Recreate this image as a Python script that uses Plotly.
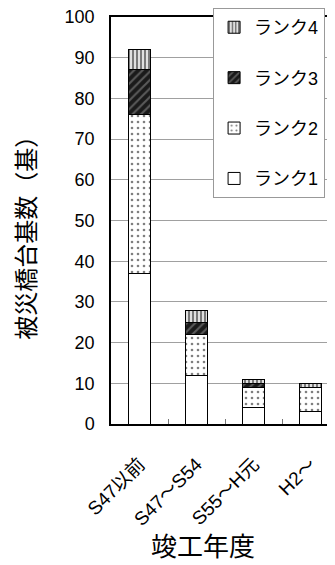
import plotly.graph_objects as go

# --- data ---
categories = ["S47以前", "S47～S54", "S55～H元", "H2～"]
rank1 = [37, 12, 4, 3]
rank2 = [39, 10, 5, 6]
rank3 = [11, 3, 1, 0]
rank4 = [5, 3, 1, 1]
y_ticks = [0, 10, 20, 30, 40, 50, 60, 70, 80, 90, 100]

JP = "Liberation Sans, Noto Sans CJK JP"

series = [
    ("ランク1", rank1, dict(shape="", bgcolor="white")),
    ("ランク2", rank2, dict(shape=".", fgcolor="black", bgcolor="white", size=6, solidity=0.15)),
    ("ランク3", rank3, dict(shape="/", fgcolor="#9a9a9a", bgcolor="#1a1a1a", size=6, solidity=0.35)),
    ("ランク4", rank4, dict(shape="|", fgcolor="#111111", bgcolor="#e0e0e0", size=4, solidity=0.5)),
]

fig = go.Figure()
for i, (name, vals, pat) in enumerate(series):
    fig.add_trace(go.Bar(
        x=categories, y=vals, name=name,
        width=0.4,
        legendgroup=str(i),
        legendrank=len(series) - i,
        marker=dict(color="white", line=dict(color="black", width=1), pattern=pat),
    ))

# the page body has an 8px margin, so offsets are reduced by 8px
fig.update_layout(
    barmode="stack",
    width=335, height=565,
    margin=dict(l=103, r=0, t=9, b=149),
    paper_bgcolor="white", plot_bgcolor="white",
    font=dict(family=JP, size=18, color="black"),
    showlegend=True,
    legend=dict(
        x=0.44, y=1.022, xanchor="left", yanchor="top",
        bgcolor="white", bordercolor="#999999", borderwidth=1,
        traceorder="grouped", tracegroupgap=24,
        font=dict(family=JP, size=18),
        itemwidth=30,
    ),
    xaxis=dict(
        range=[-0.5, 3.57],
        showline=True, linecolor="black", linewidth=1.5, mirror=True,
        ticks="inside", tickson="boundaries", ticklen=5, tickcolor="#777777",
        tickangle=-45, tickfont=dict(family=JP, size=19),
        ticklabelstandoff=20,
        showgrid=False,
    ),
    yaxis=dict(
        range=[0, 100], tickvals=y_ticks,
        showline=True, linecolor="black", linewidth=1.5,
        showgrid=True, gridcolor="#a0a0a0", gridwidth=1,
        tickfont=dict(family=JP, size=18),
        ticklabelstandoff=11, ticklabeloverflow="allow",
        zeroline=False,
    ),
    annotations=[
        dict(text="被災橋台基数（基）", textangle=-90, x=-0.371, y=0.472,
             xanchor="center", yanchor="middle",
             xref="paper", yref="paper", showarrow=False,
             font=dict(family="Noto Sans CJK JP", size=24)),
        dict(text="竣工年度", x=0.397, y=-0.297, xanchor="center", yanchor="middle",
             xref="paper", yref="paper",
             showarrow=False, font=dict(family="Noto Sans CJK JP", size=26)),
    ],
)

fig.write_html("out.html")
